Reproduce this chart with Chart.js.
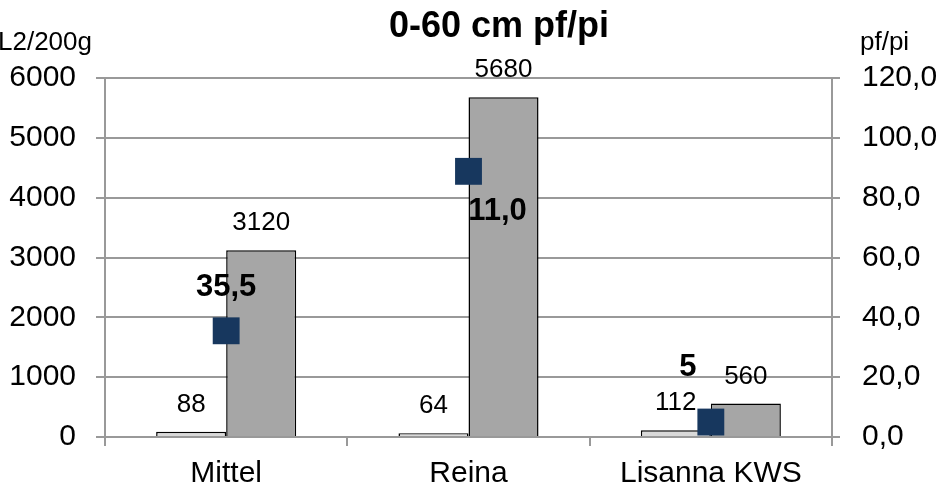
<!DOCTYPE html>
<html>
<head>
<meta charset="utf-8">
<title>0-60 cm pf/pi</title>
<script src="https://cdn.jsdelivr.net/npm/chart.js@4/dist/chart.umd.min.js"></script>
<style>
  html, body { margin: 0; padding: 0; background: #fff; }
  #wrap { width: 941px; height: 490px; }
</style>
</head>
<body>
<div id="wrap"><canvas id="pfChart" width="941" height="490"></canvas></div>
<script>
// Varieties on the x axis
const categories = ['Mittel', 'Reina', 'Lisanna KWS'];
// Initial population pi and final population pf (L2/200g)
const piValues = [88, 64, 112];
const pfValues = [3120, 5680, 560];
// Multiplication rate pf/pi (right axis) and the text printed next to each square
const ratioValues = [35.5, 88.8, 5];
const ratioLabels = ['35,5', '11,0', '5'];

const FONT = "'Liberation Sans', Arial, sans-serif";
const GRID = '#999999';

// Where each ratio label sits relative to its square
const ratioLabelOffsets = [[0, -43], [29, 40], [-23, -55]];

// Title, axis units and value labels
const labelPlugin = {
  id: 'labels',
  afterDatasetsDraw(chart) {
    const ctx = chart.ctx;
    ctx.save();
    ctx.fillStyle = '#000';
    ctx.textBaseline = 'middle';

    // title
    ctx.font = 'bold 36px ' + FONT;
    ctx.textAlign = 'center';
    ctx.fillText('0-60 cm pf/pi', 499, 27);

    // axis units
    ctx.font = '26px ' + FONT;
    ctx.textAlign = 'right';
    ctx.fillText('L2/200g', 92, 43);
    ctx.textAlign = 'left';
    ctx.fillText('pf/pi', 860, 43);

    // bar values
    ctx.textAlign = 'center';
    ctx.font = '26px ' + FONT;
    [1, 2].forEach(di => {
      const meta = chart.getDatasetMeta(di);
      meta.data.forEach((bar, i) => {
        const v = chart.data.datasets[di].data[i];
        ctx.fillText(String(v), bar.x, bar.y - 27);
      });
    });

    // ratio labels
    ctx.font = 'bold 31px ' + FONT;
    const pts = chart.getDatasetMeta(0).data;
    pts.forEach((p, i) => {
      const off = ratioLabelOffsets[i];
      ctx.fillText(ratioLabels[i], p.x + off[0], p.y + off[1]);
    });
    ctx.restore();
  }
};

const ctx = document.getElementById('pfChart').getContext('2d');
new Chart(ctx, {
  type: 'bar',
  data: {
    labels: categories,
    datasets: [
      {
        type: 'line',
        label: 'pf/pi',
        data: ratioValues,
        yAxisID: 'y1',
        showLine: false,
        pointStyle: 'rect',
        pointRadius: 19,
        pointHoverRadius: 19,
        pointBorderWidth: 0,
        pointBackgroundColor: '#17375e',
        order: 0
      },
      {
        label: 'pi',
        data: piValues,
        yAxisID: 'y',
        backgroundColor: '#d9d9d9',
        borderColor: '#000',
        borderWidth: 1.5,
        barPercentage: 1,
        categoryPercentage: 0.578,
        order: 1
      },
      {
        label: 'pf',
        data: pfValues,
        yAxisID: 'y',
        backgroundColor: '#a6a6a6',
        borderColor: '#000',
        borderWidth: 1.5,
        barPercentage: 1,
        categoryPercentage: 0.578,
        order: 1
      }
    ]
  },
  options: {
    responsive: false,
    animation: false,
    layout: { padding: { top: 78, left: 0, right: 0, bottom: 0 } },
    plugins: {
      legend: { display: false },
      title: { display: false },
      tooltip: { enabled: false }
    },
    scales: {
      x: {
        offset: true,
        grid: {
          offset: true,
          drawOnChartArea: false,
          color: GRID,
          lineWidth: 2,
          tickLength: 9
        },
        border: { color: GRID, width: 2 },
        ticks: {
          color: '#000',
          font: { family: FONT, size: 30 },
          padding: 10,
          maxRotation: 0
        },
        afterFit(scale) { scale.height = 53; }
      },
      y: {
        position: 'left',
        min: 0,
        max: 6000,
        grid: { color: GRID, lineWidth: 2, tickLength: 9 },
        border: { color: GRID, width: 2 },
        ticks: {
          stepSize: 1000,
          color: '#000',
          font: { family: FONT, size: 30 },
          padding: 20,
          callback: v => String(v)
        },
        afterFit(scale) { scale.width = 105; }
      },
      y1: {
        position: 'right',
        min: 0,
        max: 120,
        grid: { drawOnChartArea: false, color: GRID, lineWidth: 2, tickLength: 8 },
        border: { color: GRID, width: 2 },
        ticks: {
          stepSize: 20,
          color: '#000',
          font: { family: FONT, size: 30 },
          padding: 22,
          callback: v => v.toFixed(1).replace('.', ',')
        },
        afterFit(scale) { scale.width = 109; }
      }
    }
  },
  plugins: [labelPlugin]
});
</script>
</body>
</html>
